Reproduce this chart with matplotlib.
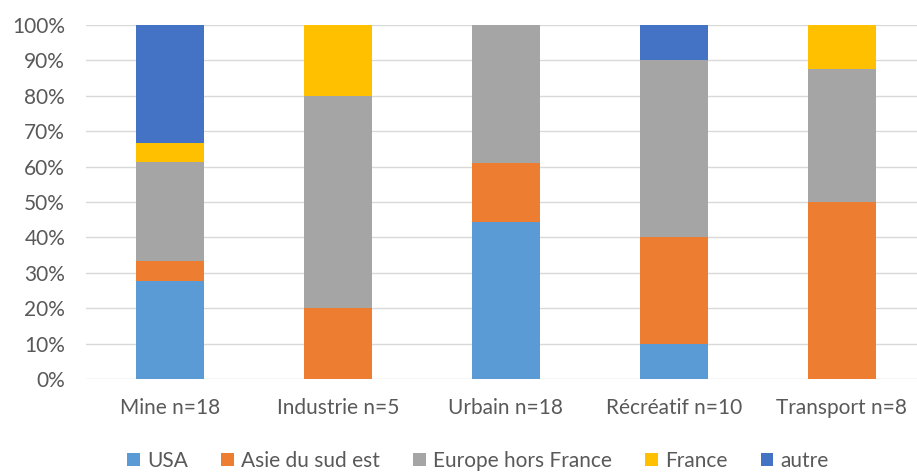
import matplotlib
matplotlib.use("Agg")
import matplotlib.pyplot as plt
import numpy as np

categories = ["Mine n=18", "Industrie n=5", "Urbain n=18", "Récréatif n=10", "Transport n=8"]
series_names = ["USA", "Asie du sud est", "Europe hors France", "France", "autre"]
usa = [27.8, 0.0, 44.4, 10.0, 0.0]
asie = [5.6, 20.0, 16.7, 30.0, 50.0]
europe = [27.8, 60.0, 38.9, 50.0, 37.5]
france = [5.6, 20.0, 0.0, 0.0, 12.5]
autre = [33.3, 0.0, 0.0, 10.0, 0.0]
colors = ["#5B9BD5", "#ED7D31", "#A5A5A5", "#FFC000", "#4472C4"]
yticks = [0, 10, 20, 30, 40, 50, 60, 70, 80, 90, 100]

plt.rcParams['font.family'] = ['Lato', 'DejaVu Sans']

W, H = 917, 472
fig = plt.figure(figsize=(W/100, H/100), dpi=100)
left = 86 / W
right = 925.5 / W
bottom = 1 - 379 / H
top = 1 - 25 / H
ax = fig.add_axes([left, bottom, right - left, top - bottom])

x = np.arange(len(categories))
base = np.zeros(len(categories))
for name, vals, c in zip(series_names, [usa, asie, europe, france, autre], colors):
    v = np.array(vals)
    ax.bar(x, v, 0.405, bottom=base, color=c, label=name, zorder=3)
    base += v

ax.set_xlim(-0.5, 4.5)
ax.set_ylim(0, 100)
ax.set_yticks(yticks)
ax.set_yticklabels([f"{t}%" for t in yticks])
ax.set_xticks(x)
ax.set_xticklabels(categories)
ax.grid(axis='y', color='#D9D9D9', linewidth=1, zorder=0)
for s in ax.spines.values():
    s.set_visible(False)
ax.tick_params(axis='both', length=0, colors='#595959', labelsize=15)
ax.tick_params(axis='x', pad=14)
ax.tick_params(axis='y', pad=15)

handles, labels = ax.get_legend_handles_labels()
fig.legend(handles, labels, loc='center', bbox_to_anchor=(478 / W, 1 - 461 / H), ncol=5,
           frameon=False, fontsize=15, labelcolor='#595959', handlelength=0.6,
           handleheight=0.6, handletextpad=0.35, columnspacing=1.6)

fig.savefig("out.png", dpi=100)
